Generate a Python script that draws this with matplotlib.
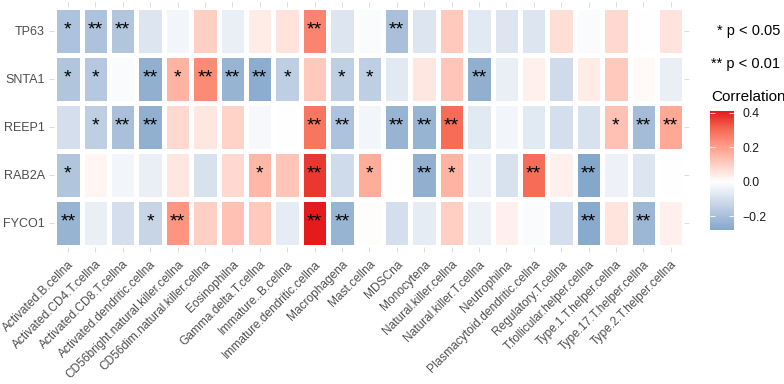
#!/usr/bin/env python3
# Gene vs immune cell correlation heatmap with significance stars

from matplotlib import pyplot as plt
from matplotlib.colors import LinearSegmentedColormap, Normalize
from matplotlib.cm import ScalarMappable
from matplotlib.transforms import ScaledTranslation
import numpy as np

################
#   DATA       #
################
cells = ["Activated.B.cellna", "Activated.CD4.T.cellna", "Activated.CD8.T.cellna",
         "Activated.dendritic.cellna", "CD56bright.natural.killer.cellna",
         "CD56dim.natural.killer.cellna", "Eosinophilna", "Gamma.delta.T.cellna",
         "Immature..B.cellna", "Immature.dendritic.cellna", "Macrophagena",
         "Mast.cellna", "MDSCna", "Monocytena", "Natural.killer.cellna",
         "Natural.killer.T.cellna", "Neutrophilna", "Plasmacytoid.dendritic.cellna",
         "Regulatory.T.cellna", "T.follicular.helper.cellna", "Type.1.T.helper.cellna",
         "Type.17.T.helper.cellna", "Type.2.T.helper.cellna"]
genes = ["TP63", "SNTA1", "REEP1", "RAB2A", "FYCO1"]

tp63 = [-0.19, -0.19, -0.18, -0.08, -0.03, 0.10, -0.05, 0.04, 0.06, 0.25, -0.08, -0.01,
        -0.20, -0.08, 0.11, -0.07, -0.08, -0.08, 0.07, -0.01, 0.08, 0.00, 0.06]
snta1 = [-0.18, -0.17, -0.01, -0.25, 0.16, 0.24, -0.24, -0.26, -0.15, 0.11, -0.15, -0.15,
         -0.07, 0.05, 0.12, -0.25, -0.05, 0.03, -0.11, 0.04, 0.11, 0.01, -0.05]
reep1 = [-0.10, -0.15, -0.20, -0.25, 0.08, 0.05, 0.09, -0.02, 0.00, 0.28, -0.19, -0.03,
         -0.24, -0.24, 0.30, -0.07, -0.03, -0.07, -0.10, -0.09, 0.13, -0.21, 0.18]
rab2a = [-0.18, 0.02, -0.03, -0.05, 0.05, -0.09, 0.08, 0.15, 0.12, 0.37, -0.11, 0.17,
         0.00, -0.25, 0.16, -0.04, -0.09, 0.30, 0.03, -0.28, -0.04, -0.08, 0.00]
fyco1 = [-0.24, -0.05, -0.10, -0.13, 0.22, 0.10, 0.13, 0.11, -0.06, 0.41, -0.24, 0.005,
         -0.10, -0.06, 0.10, -0.04, 0.03, -0.01, -0.10, -0.27, 0.06, -0.23, 0.03]

sig_tp63 = ["*", "**", "**", "", "", "", "", "", "", "**", "", "", "**", "", "", "", "", "", "", "", "", "", ""]
sig_snta1 = ["*", "*", "", "**", "*", "**", "**", "**", "*", "", "*", "*", "", "", "", "**", "", "", "", "", "", "", ""]
sig_reep1 = ["", "*", "**", "**", "", "", "", "", "", "**", "**", "", "**", "**", "**", "", "", "", "", "", "*", "**", "**"]
sig_rab2a = ["*", "", "", "", "", "", "", "*", "", "**", "", "*", "", "**", "*", "", "", "**", "", "**", "", "", ""]
sig_fyco1 = ["**", "", "", "*", "**", "", "", "", "", "**", "**", "", "", "", "", "", "", "", "", "**", "", "**", ""]

values = np.array([tp63, snta1, reep1, rab2a, fyco1])
stars = [sig_tp63, sig_snta1, sig_reep1, sig_rab2a, sig_fyco1]

################
#   STYLE      #
################
plt.rcParams["font.family"] = ["Liberation Sans", "DejaVu Sans"]
GREY30 = "#4D4D4D"
TICK_COL = "#D6D6D6"

# steelblue -> white -> red, with anchors roughly following a Lab blend
cmap = LinearSegmentedColormap.from_list("corr", [
    (0.0, "#4682B4"), (0.25, "#A7BED9"), (0.375, "#D3DEEC"), (0.5, "#FFFFFF"),
    (0.625, "#FFCEC2"), (0.75, "#FF9D89"), (0.875, "#F56852"), (1.0, "#E41A1C")])
lim = np.abs(values).max()
norm = Normalize(vmin=-lim, vmax=lim)

fig = plt.figure(figsize=(7.84, 3.84), dpi=100)
ax = fig.add_axes([54.2 / 784, 1 - 246.8 / 384, 630.2 / 784, 240 / 384])

n_rows, n_cols = values.shape
ax.pcolormesh(np.arange(n_cols + 1) - 0.5, np.arange(n_rows + 1) - 0.5, values,
              cmap=cmap, norm=norm, edgecolors="white", linewidth=2.2)
ax.set_xlim(-0.5, n_cols - 0.5)
ax.set_ylim(n_rows - 0.5, -0.5)

for r in range(n_rows):
    for c in range(n_cols):
        if stars[r][c]:
            ax.text(c, r - 0.01, stars[r][c], ha="center", va="center",
                    fontsize=14, color="black")

for s in ax.spines.values():
    s.set_visible(False)

ax.set_xticks(range(n_cols))
ax.set_xticklabels(cells, rotation=45, ha="right", va="top",
                   rotation_mode="anchor", fontsize=8.6, color=GREY30)
shift = ScaledTranslation(3 / 100, 0, fig.dpi_scale_trans)
for lbl in ax.get_xticklabels():
    lbl.set_transform(lbl.get_transform() + shift)
ax.set_yticks(range(n_rows))
ax.set_yticklabels(genes, fontsize=9, color=GREY30)
ax.tick_params(axis="both", length=3.8, width=0.6, color=TICK_COL, pad=3,
               top=True, right=True, left=True)
ax.tick_params(axis="x", pad=4.5)

# significance legend
fig.text(780 / 784, 1 - 31 / 384, "* p < 0.05", ha="right", va="center", fontsize=10.5)
fig.text(780 / 784, 1 - 64 / 384, "** p < 0.01", ha="right", va="center", fontsize=10.5)

# colour bar
fig.text(711 / 784, 1 - 97 / 384, "Correlation", ha="left", va="center", fontsize=11)
cax = fig.add_axes([710 / 784, 1 - 230 / 384, 24 / 784, 119 / 384])
sm = ScalarMappable(norm=norm, cmap=cmap)
cbar = fig.colorbar(sm, cax=cax, boundaries=np.linspace(values.min(), values.max(), 256))
cbar.outline.set_visible(False)
cbar.set_ticks([-0.2, 0.0, 0.2, 0.4])
cbar.set_ticklabels(["\u22120.2", "0.0", "0.2", "0.4"])
cax.tick_params(direction="in", length=3.5, width=0.6, color="white",
                left=True, right=True, labelsize=8.8, labelcolor="#1A1A1A", pad=6)

fig.savefig("out.png", dpi=100)
